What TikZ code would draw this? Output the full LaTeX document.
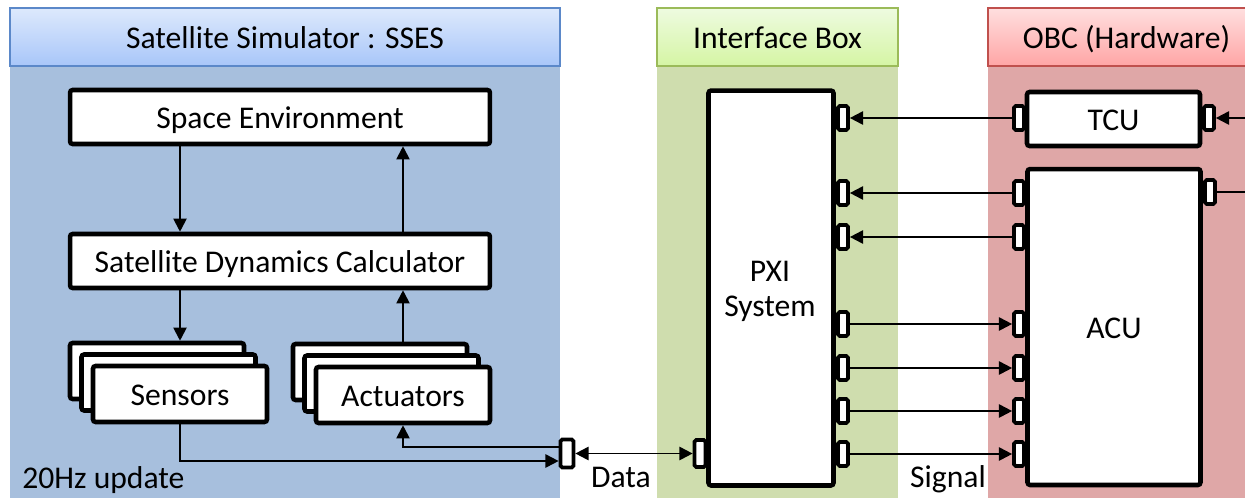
\documentclass[tikz,border=0pt]{standalone}
\usepackage{fontspec}
\setmainfont{Carlito}
\usetikzlibrary{arrows.meta}

\definecolor{ssesbody}{HTML}{A7BFDD}
\definecolor{ssestop}{HTML}{DDE9FC}
\definecolor{ssesbot}{HTML}{A8C6F9}
\definecolor{ssesline}{HTML}{5B88C9}
\definecolor{ifbody}{HTML}{CFDDAE}
\definecolor{iftop}{HTML}{EEFBE0}
\definecolor{ifbot}{HTML}{D5F5A4}
\definecolor{ifline}{HTML}{9BBB59}
\definecolor{obcbody}{HTML}{DFA7A7}
\definecolor{obctop}{HTML}{FFDFDF}
\definecolor{obcbot}{HTML}{FFA5A5}
\definecolor{obcline}{HTML}{C0504D}

\tikzset{
  hdr/.style={draw, line width=0.7pt, minimum height=1.16cm, inner sep=0pt, text height=13pt, text depth=0pt},
  blk/.style={draw, line width=2.6pt, fill=white, rounded corners=1.5pt, inner sep=0pt, minimum height=1.08cm, text height=13pt, text depth=0pt},
  port/.style={draw, line width=2.1pt, fill=white, rounded corners=1pt, inner sep=0pt, minimum width=0.2cm, minimum height=0.48cm},
  sig/.style={-{Triangle[length=7.5pt,width=7.5pt]}, line width=1.1pt},
  lbl/.style={inner sep=0pt}
}

\begin{document}
\begin{tikzpicture}[x=0.02cm, y=-0.02cm, font=\fontsize{18}{21.6}\selectfont]
\clip (0,0) rectangle (1245,498);
% panels
\fill[ssesbody] (10,66) rectangle (560,498);
\fill[ifbody] (657,66) rectangle (898,498);
\fill[obcbody] (988,66) rectangle (1270,498);
\node[hdr, draw=ssesline, top color=ssestop, bottom color=ssesbot, minimum width=11cm] (hsses) at (285,37) {Satellite Simulator : SSES};
\node[hdr, draw=ifline, top color=iftop, bottom color=ifbot, minimum width=4.82cm] (hif) at (777.5,37) {Interface Box};
\node[hdr, draw=obcline, top color=obctop, bottom color=obcbot, minimum width=5.54cm] (hobc) at (1126.5,37) {OBC (Hardware)};

% simulator
\node[blk, minimum width=8.4cm] (senv) at (280,117) {Space Environment};
\node[blk, minimum width=8.4cm] (sdc) at (280,261) {Satellite Dynamics Calculator};
\node[blk, minimum width=3.48cm, minimum height=1.12cm] (sensB) at (157,371) {};
\node[blk, minimum width=3.48cm, minimum height=1.12cm] (sensM) at (168.5,382.5) {};
\node[blk, minimum width=3.48cm, minimum height=1.12cm] (sens) at (180,394) {Sensors};
\node[blk, minimum width=3.48cm, minimum height=1.12cm] (actB) at (380,372) {};
\node[blk, minimum width=3.48cm, minimum height=1.12cm] (actM) at (391.5,383.5) {};
\node[blk, minimum width=3.48cm, minimum height=1.12cm] (act) at (403,395) {Actuators};
\node[port, minimum width=0.26cm, minimum height=0.56cm] (dsim) at (567,453.5) {};

\draw[sig] (senv.south -| sens.north) -- (sdc.north -| sens.north);
\draw[sig] (sdc.north -| act.north) -- (senv.south -| act.north);
\draw[sig] (sdc.south -| sens.north) -- (sensB.north -| sens.north);
\draw[sig] (actB.north -| act.north) -- (sdc.south -| act.north);
\draw[sig] (sens.south) |- ([yshift=-0.15cm]dsim.west);
\draw[sig] ([yshift=0.13cm]dsim.west) -| (act.south);

% interface box
\node[blk, minimum width=2.5cm, minimum height=7.9cm] (pxi) at (771,288) {};
\node[lbl, align=center, font=\fontsize{18}{20}\selectfont] (pxitxt) at (770,291) {PXI\\System};
\node[port, minimum width=0.22cm, minimum height=0.54cm] (dpxi) at (700,453.5) {};
\foreach \y [count=\i] in {118,193,237,324,368,411,454}
  \node[port] (px\i) at (843,\y) {};

% obc
\node[blk, minimum width=3.46cm] (tcu) at (1113.5,119) {TCU};
\node[blk, minimum width=3.46cm, minimum height=6.32cm] (acu) at (1114,327) {ACU};
\foreach \y [count=\i] in {118,193,237,324,368,411,454}
  \node[port] (ob\i) at (1019,\y) {};
\node[port] (tcur) at (1209,118) {};
\node[port] (acur) at (1210,192) {};
\coordinate (tcuin) at (1260,118);
\coordinate (acuout) at (1260,192);

% signals
\foreach \i in {1,2,3}
  \draw[sig] (ob\i.west) -- (px\i.east);
\foreach \i in {4,5,6,7}
  \draw[sig] (px\i.east) -- (ob\i.west);
\draw[sig] (tcuin) -- (tcur.east);
\draw[line width=1.1pt] (acur.east) -- (acuout);
\draw[{Triangle[length=7.5pt,width=7.5pt]}-{Triangle[length=7.5pt,width=7.5pt]}, line width=1.1pt] (dsim.east) -- (dpxi.west);

\node[lbl, anchor=west] (rate) at (22,480) {20Hz update};
\node[lbl] (ldata) at (621,477.5) {Data};
\node[lbl] (lsig) at (948,479.5) {Signal};
\end{tikzpicture}
\end{document}
